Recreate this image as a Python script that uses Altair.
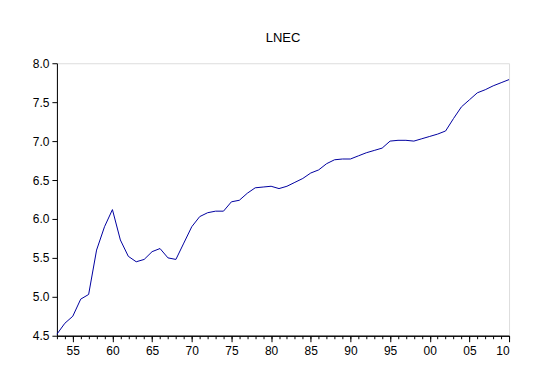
import altair as alt
import pandas as pd

years = list(range(1953, 2011))
lnec = [4.52, 4.66, 4.75, 4.97, 5.03, 5.60, 5.90, 6.12, 5.73, 5.52,
        5.45, 5.48, 5.58, 5.62, 5.50, 5.48, 5.69, 5.90, 6.03, 6.08,
        6.10, 6.10, 6.22, 6.24, 6.33, 6.40, 6.41, 6.42, 6.39, 6.42,
        6.47, 6.52, 6.59, 6.63, 6.71, 6.76, 6.77, 6.77, 6.81, 6.85,
        6.88, 6.91, 7.00, 7.01, 7.01, 7.00, 7.03, 7.06, 7.09, 7.13,
        7.29, 7.44, 7.53, 7.62, 7.66, 7.71, 7.75, 7.79]
major_ticks = [1955, 1960, 1965, 1970, 1975, 1980, 1985, 1990, 1995, 2000, 2005, 2010]
minor_ticks = years
y_ticks = [4.5, 5.0, 5.5, 6.0, 6.5, 7.0, 7.5, 8.0]

df = pd.DataFrame({"year": years, "lnec": lnec})

FONT = "Liberation Sans"
xscale = alt.Scale(domain=[1953, 2010], nice=False, zero=False)
yscale = alt.Scale(domain=[4.5, 8.0], nice=False, zero=False)

line = alt.Chart(df).mark_line(color="#0000a0", strokeWidth=1).encode(
    x=alt.X("year:Q", scale=xscale,
            axis=alt.Axis(orient="bottom", values=major_ticks, title=None, tickSize=6,
                          labelExpr="pad(datum.value % 100, 2, '0', 'left')",
                          grid=False, domainColor="black", tickColor="black",
                          labelFont=FONT, labelFontSize=12, labelColor="black",
                          labelPadding=4)),
    y=alt.Y("lnec:Q", scale=yscale,
            axis=alt.Axis(values=y_ticks, format=".1f", title=None, tickSize=5,
                          grid=False, domainColor="black", tickColor="black",
                          labelFont=FONT, labelFontSize=12, labelColor="black",
                          labelPadding=3)),
)

minor = alt.Chart(pd.DataFrame({"year": minor_ticks})).mark_point(opacity=0).encode(
    x=alt.X("year:Q", scale=xscale,
            axis=alt.Axis(orient="bottom", values=minor_ticks, title=None, tickSize=3,
                          labels=False, grid=False, domainColor="black",
                          tickColor="black")),
)

chart = alt.layer(minor, line).resolve_axis(x="independent").properties(
    width=453, height=273,
    title=alt.TitleParams("LNEC", font=FONT, fontSize=13, fontWeight="normal",
                          color="black", offset=12, anchor="middle"),
    autosize=alt.AutoSizeParams(type="none"),
    padding={"left": 49, "top": 55, "right": 30, "bottom": 40},
).configure_view(stroke="black", strokeWidth=1).configure(background="white")

chart.save("out.html", embed_options={"renderer": "svg", "actions": False})
